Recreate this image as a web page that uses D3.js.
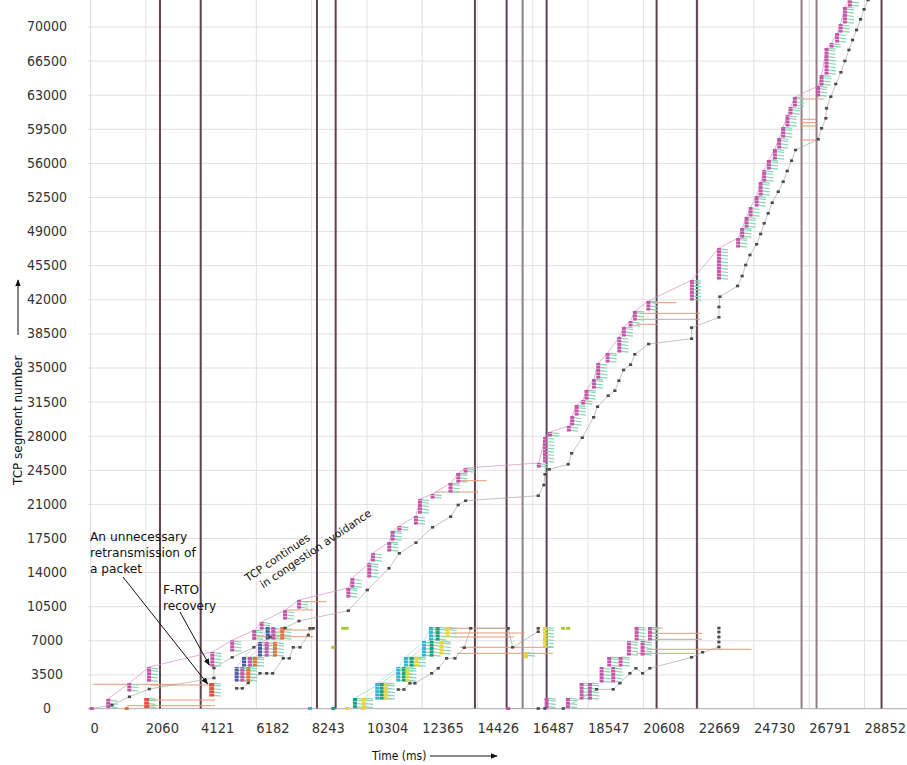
<!DOCTYPE html>
<html><head><meta charset="utf-8">
<script src="https://cdn.jsdelivr.net/npm/d3@7"></script>
<style>body{margin:0;background:#fff}svg{display:block}</style>
</head><body><svg id="c" width="907" height="765"></svg>
<script>
// ---------- data ----------
const xTicks = [0,2060,4121,6182,8243,10304,12365,14426,16487,18547,20608,22669,24730,26791,28852];
const yTicks = [0,3500,7000,10500,14000,17500,21000,24500,28000,31500,35000,38500,42000,45500,49000,52500,56000,59500,63000,66500,70000];
const timeoutsDark = [2609,4126,8460,9157,14349,15530,17021,21121,22622,29506];
const timeoutsLight = [16126,26524,27083];
const packetSize = 340;

// bursts: [time ms, first segment, last segment]
const mainBursts = [[680,0,1000],[1465,1700,2600],[2200,2700,4250],[4560,4250,5800],[5300,5800,7000],[6120,7000,8050],[6400,8050,8880],[7270,9080,10100],[7790,10200,11140],[9630,11340,12370],[9780,12370,13390],[10410,13400,14930],[10550,15040,15960],[11155,16060,17090],[11280,17190,18220],[11530,18220,18730],[12150,18830,19760],[12300,19960,21500],[12770,21500,22020],[13440,22120,23145],[13730,23145,24170],[14000,24170,24680],[16730,24680,25200],[16960,25200,27870],[17145,27870,28380],[17850,28380,29000],[17975,29000,30020],[18140,30020,31150],[18385,31150,31660],[18510,31660,32690],[18785,32790,33820],[18945,33820,35460],[19295,35460,36490],[19730,36490,38130],[19900,38130,39160],[20150,39160,39770],[20310,39770,40800],[20815,40800,41825],[22435,41825,43980],[23445,43980,47265],[24160,47265,48290],[24310,48290,49320],[24475,49320,50450],[24625,50450,51470],[24850,51470,52600],[25000,52600,54040],[25130,54040,55270],[25305,55270,56300],[25530,56300,57430],[25690,57430,58555],[25840,58555,59685],[26000,59685,60915],[26115,60915,61740],[26275,61740,62765],[27145,62765,63890],[27270,63890,65020],[27455,65020,67790],[27645,67790,68310],[27850,68310,69330],[27980,69330,70260],[28140,70260,72000],[28325,72000,73000]];
const mainAcks = [[60,0],[820,350],[1470,1200],[2210,2000],[4620,3130],[4620,4160],[5300,5250],[6110,6280],[6710,7340],[7270,8260],[7790,8980],[9630,10040],[10335,12160],[11145,14390],[11530,15930],[12150,17020],[12770,18600],[13445,19690],[13725,20890],[14000,21330],[16710,21840],[16920,22940],[16960,24040],[17120,24550],[17825,25065],[17955,26195],[18350,27795],[18775,29890],[18920,30975],[19315,32105],[19565,32620],[19715,33645],[19890,34745],[20150,35290],[20310,36355],[20825,37410],[22425,37955],[22425,39085],[23445,40150],[23445,41210],[23480,42265],[24140,43365],[24310,44390],[24440,45520],[24600,46545],[24850,47645],[25000,48705],[25130,49800],[25280,50825],[25430,51915],[25655,53045],[25840,54070],[25990,55170],[26150,56225],[26300,57325],[27145,58420],[27270,59550],[27430,60580],[27455,61605],[27615,62795],[27800,64100],[27990,65300],[28140,66460],[28290,67590],[28425,68615],[28575,69640],[28725,70740],[28855,71765],[29005,72720]];

const redBursts = [[2113,0,1080],[4536,1180,2620]];
const blueBursts = [[5467,2720,4260],[5740,4260,5290],[6336,5290,6830],[6623,7030,8365]];
const pinkBursts = [[5676,2720,4260],[5963,4260,5290],[6585,5290,6830],[6832,7030,8365]];
const orangeBursts = [[5900,2720,4260],[6150,4260,5290],[6895,5290,6830],[7167,7030,8365]];
const earlyAcks = [[5467,2070],[5676,2070],[5900,2620],[6336,3610],[6585,3610],[6810,3610],[7204,5150],[7428,5150],[7577,6280],[7827,6280],[8136,7540],[8199,8230],[8322,8230]];

const cyanBursts = [[10708,870,2620],[11490,2720,4260],[11777,4260,5290],[12448,5290,6930],[12709,6930,8365]];
const greenBursts = [[9877,0,1080],[10871,870,2620],[11703,2720,4260],[11990,4260,5290],[12735,5290,6930],[12959,6930,8365]];
const yellowBursts = [[10212,0,1080],[11032,870,2620],[11826,2720,4260],[12176,4260,5290],[13108,5490,6930],[13332,7240,8365],[16250,5290,5800],[16958,6210,8365]];
const midAcks = [[11490,1950],[11703,1950],[11926,2590],[12113,2590],[12735,3610],[12981,4130],[13294,5150],[13603,5150],[13950,6240],[14189,8230],[15590,8230],[15754,6280],[16708,7880],[16708,8230]];

const lateBursts = [[17021,0,1080],[17815,0,1080],[18326,870,2620],[18635,870,2620],[19071,2620,4260],[19503,2620,4260],[19354,4260,5290],[19779,4260,5290],[20088,5390,6930],[20598,5390,6930],[20375,6930,8365],[20871,6930,8365]];
const lateAcks = [[15590,0],[16708,0],[16958,0],[17640,0],[18884,1970],[19503,1970],[19752,2590],[20126,3610],[20349,4130],[20599,3610],[20871,4130],[22425,5255],[22835,5770],[23443,6310],[23443,6825],[23443,7340],[23443,7850],[23443,8260]];

// coloured single markers: [time, segment, flow]
const markers = [[60,0,"main"],[1368,0,"orange"],[8200,0,"cyan"],[9068,0,"green"],[9580,0,"yellow"],[10170,0,"yellow"],[9068,6280,"lime"],[9440,8230,"lime"],[9567,8230,"lime"],[17640,8230,"lime"],[17826,8230,"lime"],[15590,0,"main"],[16250,5290,"yellow"]];

// long horizontal lines: [start ms, end ms, segment]
const longLines = [[110,3230,2480],[2236,4584,2410],[2236,4660,870],[1368,4660,290],[7830,8820,10960],[7270,8320,10110],[7190,8310,8060],[6210,8320,7370],[13790,14785,23380],[12860,14460,22220],[20983,21866,41650],[20498,22734,40560],[20498,22734,39950],[20375,21180,39430],[26524,27356,62560],[26461,27083,60475],[26461,27083,60125],[26461,27083,59790],[26461,27083,58350],[13417,15653,8230],[13500,16200,7750],[13600,15800,7340],[13790,17256,6280],[13667,17256,5665],[20975,21350,8260],[20930,22835,7720],[20930,22810,7100],[20750,24660,6080],[20375,22550,5665]];

// ---------- drawing ----------
const svg = d3.select('#c');
const plotLeft = 88, plotRight = 907, plotBottom = 708.5;
const x = d3.scaleLinear().domain([0,28852]).range([90,864]);
const y = d3.scaleLinear().domain([0,70000]).range([708.5,26.5]);
const col = {main:"#c455a8", red:"#e0503c", blue:"#4c5aa6", orange:"#e27238", cyan:"#2fb6d6", green:"#1f9f7e", yellow:"#e6d43a", lime:"#a8c83c", tick:"#8ad4b4", ack:"#4a4a4a", long:"#e59a72"};
const tickFont = '"DejaVu Sans Condensed","DejaVu Sans",sans-serif';

svg.append('clipPath').attr('id','clip').append('rect')
  .attr('x',plotLeft).attr('y',0).attr('width',plotRight-plotLeft).attr('height',plotBottom+3);

// grid + tick labels
const gx = svg.append('g').attr('transform',`translate(0,${plotBottom})`)
  .call(d3.axisBottom(x).tickValues(xTicks).tickSize(-plotBottom).tickPadding(14).tickFormat(d=>d));
gx.select('.domain').remove();
gx.selectAll('line').attr('stroke','#e0e0e0');
gx.selectAll('text').attr('text-anchor','start').attr('fill','#333')
  .style('font-family',tickFont).style('font-size','14.5px');

const gy = svg.append('g').attr('transform',`translate(${plotLeft},0)`)
  .call(d3.axisLeft(y).tickValues(yTicks).tickSize(-(plotRight-plotLeft)).tickPadding(41).tickFormat(d=>d));
gy.select('.domain').remove();
gy.selectAll('line').attr('stroke','#e0e0e0');
gy.selectAll('text').attr('text-anchor','middle').attr('fill','#333')
  .style('font-family',tickFont).style('font-size','14px');

// baseline
svg.append('line').attr('x1',plotLeft).attr('x2',plotRight).attr('y1',y(0)).attr('y2',y(0)).attr('stroke','#bbb');

const plot = svg.append('g').attr('clip-path','url(#clip)');

// timeout lines
plot.selectAll('.tl').data(timeoutsLight).join('line')
  .attr('x1',d=>x(d)).attr('x2',d=>x(d)).attr('y1',0).attr('y2',y(0))
  .attr('stroke','#8f7f88').attr('stroke-width',2);
plot.selectAll('.td').data(timeoutsDark).join('line')
  .attr('x1',d=>x(d)).attr('x2',d=>x(d)).attr('y1',0).attr('y2',y(0))
  .attr('stroke','#5e4252').attr('stroke-width',2);

// long lines
plot.append('g').selectAll('line').data(longLines).join('line')
  .attr('x1',d=>x(d[0])).attr('x2',d=>x(d[1])).attr('y1',d=>y(d[2])).attr('y2',d=>y(d[2]))
  .attr('stroke',col.long).attr('stroke-width',1);

const lineGen = d3.line().x(d=>x(d[0])).y(d=>y(d[1]));

// envelope lines (tops of bursts)
function topLine(bursts, color, op){
  plot.append('path').datum(bursts.map(b=>[b[0],b[2]]))
    .attr('d',lineGen).attr('fill','none').attr('stroke',color).attr('stroke-opacity',op).attr('stroke-width',0.8);
}
topLine(mainBursts, '#d890c4', 0.9);
topLine(blueBursts, col.blue, 0.35);
topLine(pinkBursts, col.main, 0.35);
topLine(orangeBursts, col.orange, 0.35);
topLine(cyanBursts, col.cyan, 0.4);
topLine(greenBursts, col.green, 0.4);
topLine(yellowBursts.slice(0,6), col.yellow, 0.5);

// ack lines
function ackLine(acks){
  plot.append('path').datum(acks).attr('d',lineGen).attr('fill','none')
    .attr('stroke','#a8a8a8').attr('stroke-width',0.7);
}
ackLine(mainAcks); ackLine(earlyAcks); ackLine(midAcks); ackLine(lateAcks);

// bursts: stacked packets + green ack ticks
function drawBursts(bursts, color, w){
  const pk = [];
  bursts.forEach(b=>{ for(let s=b[1]; s<b[2]; s+=packetSize) pk.push([b[0], s, Math.min(s+packetSize,b[2])]); });
  const g = plot.append('g');
  g.selectAll('line').data(pk).join('line')
    .attr('x1',d=>x(d[0])+2).attr('x2',d=>x(d[0]+340))
    .attr('y1',d=>y((d[1]+d[2])/2)).attr('y2',d=>y((d[1]+d[2])/2)+0.8)
    .attr('stroke',col.tick).attr('stroke-width',1.2);
  g.selectAll('rect').data(pk).join('rect')
    .attr('x',d=>x(d[0])-w/2).attr('width',w)
    .attr('y',d=>y(d[2])).attr('height',d=>Math.max(1.2,y(d[1])-y(d[2])-0.45))
    .attr('fill',color);
}
drawBursts(mainBursts, col.main, 4);
drawBursts(redBursts, col.red, 5);
drawBursts(blueBursts, col.blue, 4);
drawBursts(pinkBursts, col.main, 4);
drawBursts(orangeBursts, col.orange, 4);
drawBursts(cyanBursts, col.cyan, 4);
drawBursts(greenBursts, col.green, 4);
drawBursts(yellowBursts, col.yellow, 4);
drawBursts(lateBursts, col.main, 4);

// ack squares
function drawAcks(acks){
  plot.append('g').selectAll('rect').data(acks).join('rect')
    .attr('x',d=>x(d[0])-1.6).attr('y',d=>y(d[1])-1.3).attr('width',3.2).attr('height',2.6)
    .attr('fill',col.ack);
}
drawAcks(mainAcks); drawAcks(earlyAcks); drawAcks(midAcks); drawAcks(lateAcks);
plot.append('g').selectAll('rect').data(markers).join('rect')
  .attr('x',d=>x(d[0])-2).attr('y',d=>y(d[1])-1.5).attr('width',4).attr('height',3)
  .attr('fill',d=>col[d[2]]);

// ---------- labels & annotations ----------
const annFont = '"DejaVu Sans",sans-serif';
svg.append('defs').append('marker').attr('id','ah').attr('viewBox','0 0 10 10')
  .attr('refX',9).attr('refY',5).attr('markerWidth',7).attr('markerHeight',7).attr('orient','auto')
  .append('path').attr('d','M0,1 L10,5 L0,9 Z').attr('fill','#111');

svg.append('text').attr('x',372).attr('y',760).text('Time (ms)')
  .style('font-family',tickFont).style('font-size','12px').attr('fill','#111');
svg.append('line').attr('x1',430).attr('x2',497).attr('y1',756).attr('y2',756)
  .attr('stroke','#111').attr('stroke-width',1).attr('marker-end','url(#ah)');

svg.append('text').attr('transform','translate(22,485) rotate(-90)').text('TCP segment number')
  .style('font-family',annFont).style('font-size','12px').attr('fill','#111');
svg.append('line').attr('x1',18).attr('x2',18).attr('y1',335).attr('y2',280)
  .attr('stroke','#111').attr('stroke-width',1).attr('marker-end','url(#ah)');

const ann1 = svg.append('text').style('font-family',annFont).style('font-size','12.2px').attr('fill','#111');
['An unnecessary','retransmission of','a packet'].forEach((t,i)=>ann1.append('tspan').attr('x',90).attr('y',541+i*16).text(t));
svg.append('line').attr('x1',123).attr('y1',577).attr('x2',x(4536)-4).attr('y2',y(2620)+1)
  .attr('stroke','#111').attr('stroke-width',1).attr('marker-end','url(#ah)');

const ann2 = svg.append('text').style('font-family',annFont).style('font-size','12.2px').attr('fill','#111');
['F-RTO','recovery'].forEach((t,i)=>ann2.append('tspan').attr('x',163).attr('y',594+i*16).text(t));
svg.append('line').attr('x1',180).attr('y1',612).attr('x2',x(4560)-3).attr('y2',y(4250)-2)
  .attr('stroke','#111').attr('stroke-width',1).attr('marker-end','url(#ah)');

const ann3 = svg.append('text').attr('transform','translate(248,582) rotate(-34)')
  .style('font-family',annFont).style('font-size','10.8px').attr('fill','#111');
ann3.append('tspan').attr('x',0).attr('y',0).text('TCP continues');
ann3.append('tspan').attr('x',9).attr('y',14).text('in congestion avoidance');
</script></body></html>
